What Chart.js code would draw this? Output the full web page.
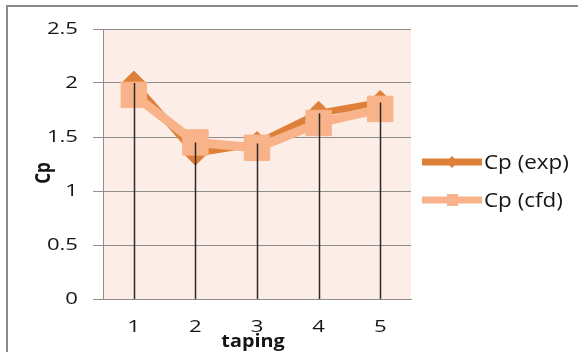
<!DOCTYPE html>
<html>
<head>
<meta charset="utf-8">
<script src="https://cdn.jsdelivr.net/npm/chart.js@4.4.1/dist/chart.umd.min.js"></script>
<style>
  html, body { margin: 0; padding: 0; background: #ffffff; }
  #wrap { width: 578px; height: 352px; position: relative; }
</style>
</head>
<body>
<div id="wrap"><canvas id="cp" width="578" height="352"></canvas></div>
<script>
// Pressure coefficient at each taping: experiment vs CFD
const tapings = ['1', '2', '3', '4', '5'];
const cpExp = [2.0, 1.35, 1.44, 1.72, 1.82];
const cpCfd = [1.89, 1.45, 1.40, 1.63, 1.76];
const yTicks = [0, 0.5, 1, 1.5, 2, 2.5];
const seriesNames = ['Cp (exp)', 'Cp (cfd)'];
const xTitle = 'taping';
const yTitle = 'Cp';

const EXP_COLOR = '#DE8039';
const CFD_COLOR = '#F8B38B';
const PLOT_BG = '#FDEDE7';
const GRID = '#8E8E8E';
const TEXT = '#151515';
const FONT = '"Open Sans", sans-serif';

// Wide, stretched lettering for the axis numbers
const TICK_STRETCH = 1.3;

const stretchedText = {
  id: 'stretchedText',
  beforeInit(chart) {
    const ctx = chart.ctx;
    const raw = CanvasRenderingContext2D.prototype.fillText;
    ctx.rawFillText = function (t, x, y) { raw.call(this, t, x, y); };
    ctx.fillText = function (t, x, y) {
      this.save();
      this.translate(x, y);
      this.scale(TICK_STRETCH, 1);
      raw.call(this, t, 0, 0);
      this.restore();
    };
  }
};

// Frame, plot background
const framePlugin = {
  id: 'frame',
  beforeDraw(chart) {
    const { ctx, chartArea: a } = chart;
    ctx.save();
    ctx.fillStyle = '#ffffff';
    ctx.fillRect(0, 0, chart.width, chart.height);
    ctx.strokeStyle = '#8A8A8A';
    ctx.lineWidth = 2;
    ctx.beginPath();
    ctx.moveTo(7, chart.height + 5);
    ctx.lineTo(7, 6);
    ctx.lineTo(chart.width + 5, 6);
    ctx.stroke();
    ctx.fillStyle = PLOT_BG;
    ctx.fillRect(a.left, a.top, a.right - a.left, a.bottom - a.top);
    ctx.restore();
  }
};

// Drop lines from the upper series point down to the category axis
const dropLines = {
  id: 'dropLines',
  afterDatasetsDraw(chart) {
    const { ctx, scales: { x, y } } = chart;
    ctx.save();
    ctx.strokeStyle = '#2b2b2b';
    ctx.lineWidth = 1.5;
    tapings.forEach((t, i) => {
      const px = Math.round(x.getPixelForValue(i)) + 0.5;
      const top = y.getPixelForValue(Math.max(cpExp[i], cpCfd[i]));
      ctx.beginPath();
      ctx.moveTo(px, top);
      ctx.lineTo(px, y.getPixelForValue(0));
      ctx.stroke();
    });
    ctx.restore();
  }
};

// Axis titles and series key
const labelsPlugin = {
  id: 'labels',
  afterDraw(chart) {
    const ctx = chart.ctx;
    const a = chart.chartArea;
    ctx.save();
    ctx.fillStyle = TEXT;

    // x title
    ctx.font = 'bold 18px ' + FONT;
    ctx.textAlign = 'center';
    ctx.textBaseline = 'alphabetic';
    ctx.save();
    ctx.translate(253, 347);
    ctx.scale(1.1, 1);
    ctx.rawFillText(xTitle, 0, 0);
    ctx.restore();

    // y title, rotated
    ctx.save();
    ctx.font = 'bold 17px ' + FONT;
    ctx.translate(44, 173);
    ctx.scale(1.25, 1);
    ctx.rotate(-Math.PI / 2);
    ctx.textBaseline = 'middle';
    ctx.rawFillText(yTitle, 0, 0);
    ctx.restore();

    // key
    const ds = chart.data.datasets;
    const rows = [162, 200];
    ds.forEach((d, i) => {
      const yy = rows[i];
      ctx.strokeStyle = d.borderColor;
      ctx.lineWidth = 7;
      ctx.lineCap = 'butt';
      ctx.beginPath();
      ctx.moveTo(422, yy);
      ctx.lineTo(482, yy);
      ctx.stroke();
      ctx.fillStyle = d.borderColor;
      if (d.pointStyle === 'rectRot') {
        ctx.beginPath();
        ctx.moveTo(452, yy - 6);
        ctx.lineTo(458, yy);
        ctx.lineTo(452, yy + 6);
        ctx.lineTo(446, yy);
        ctx.closePath();
        ctx.fill();
      } else {
        ctx.fillRect(447, yy - 6, 11, 12);
      }
      ctx.fillStyle = TEXT;
      ctx.font = '20px ' + FONT;
      ctx.textAlign = 'left';
      ctx.textBaseline = 'middle';
      ctx.save();
      ctx.translate(484, yy + 1);
      ctx.scale(1.12, 1);
      ctx.rawFillText(d.label, 0, 0);
      ctx.restore();
    });
    ctx.restore();
  }
};

new Chart(document.getElementById('cp'), {
  type: 'line',
  data: {
    labels: tapings,
    datasets: [
      {
        label: seriesNames[0],
        data: cpExp,
        borderColor: EXP_COLOR,
        backgroundColor: EXP_COLOR,
        borderWidth: 7,
        pointStyle: 'rectRot',
        pointRadius: 12,
        pointHoverRadius: 12,
        pointBorderWidth: 1,
        pointBackgroundColor: EXP_COLOR,
        pointBorderColor: EXP_COLOR,
        tension: 0,
        order: 1
      },
      {
        label: seriesNames[1],
        data: cpCfd,
        borderColor: CFD_COLOR,
        backgroundColor: CFD_COLOR,
        borderWidth: 9,
        pointStyle: 'rect',
        pointRadius: 18,
        pointHoverRadius: 18,
        pointBorderWidth: 1,
        pointBackgroundColor: CFD_COLOR,
        pointBorderColor: CFD_COLOR,
        tension: 0,
        order: 0
      }
    ]
  },
  options: {
    responsive: false,
    devicePixelRatio: 1,
    animation: false,
    events: [],
    layout: { padding: { left: 0, top: 29, right: 167, bottom: 0 } },
    plugins: {
      legend: { display: false },
      title: { display: false },
      tooltip: { enabled: false }
    },
    scales: {
      x: {
        type: 'category',
        offset: true,
        grid: { display: false, drawTicks: false },
        border: { display: true, color: GRID, width: 1 },
        ticks: {
          color: TEXT,
          font: { family: FONT, size: 17 },
          padding: 18,
          maxRotation: 0,
          autoSkip: false
        },
        afterFit(scale) { scale.height = 53; }
      },
      y: {
        min: 0,
        max: 2.5,
        afterBuildTicks(scale) { scale.ticks = yTicks.map(v => ({ value: v })); },
        grid: { color: GRID, lineWidth: 1, drawTicks: true, tickLength: 10, tickColor: GRID },
        border: { display: true, color: GRID, width: 1 },
        ticks: {
          color: TEXT,
          font: { family: FONT, size: 17 },
          padding: 15,
          callback: v => String(v)
        },
        afterFit(scale) { scale.width = 103; }
      }
    }
  },
  plugins: [stretchedText, framePlugin, dropLines, labelsPlugin]
});
</script>
</body>
</html>
